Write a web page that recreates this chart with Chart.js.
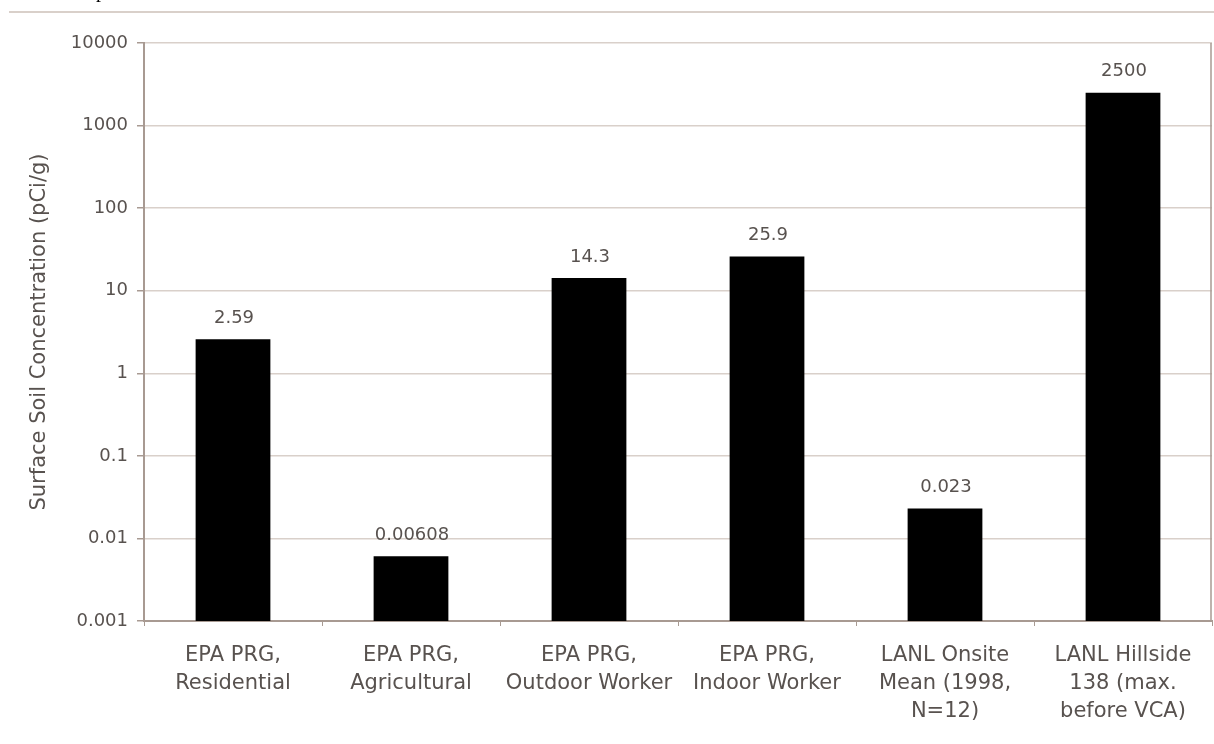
<!DOCTYPE html>
<html>
<head>
<meta charset="utf-8">
<script src="https://cdn.jsdelivr.net/npm/chart.js@4/dist/chart.umd.min.js"></script>
<style>
  html, body { margin: 0; padding: 0; background: #fff; }
  #wrap { position: relative; width: 1214px; height: 744px; overflow: hidden; }
  #frag { position: absolute; left: 96px; top: -21px; line-height: 24px; font: 20px "Liberation Serif", serif; color: #000; }
</style>
</head>
<body>
<div id="wrap">
  <div id="frag">p</div>
  <canvas id="myChart" width="1214" height="744"></canvas>
</div>
<script>
let categories = [
  ["EPA PRG,", "Residential"],
  ["EPA PRG,", "Agricultural"],
  ["EPA PRG,", "Outdoor Worker"],
  ["EPA PRG,", "Indoor Worker"],
  ["LANL Onsite", "Mean (1998,", "N=12)"],
  ["LANL Hillside", "138 (max.", "before VCA)"]
];
let values = [2.59, 0.00608, 14.3, 25.9, 0.023, 2500];
let valueLabels = ["2.59", "0.00608", "14.3", "25.9", "0.023", "2500"];
let yTicks = [0.001, 0.01, 0.1, 1, 10, 100, 1000, 10000];
let yTickLabels = ["0.001", "0.01", "0.1", "1", "10", "100", "1000", "10000"];
let yTitle = "Surface Soil Concentration (pCi/g)";

let textColor = "#58524f";
let axisColor = "#a89a92";
let gridColor = "#d9d0ca";
let font = "'DejaVu Sans', sans-serif";

let frame = {
  id: "frame",
  afterDraw(chart) {
    let ctx = chart.ctx;
    let a = chart.chartArea;
    ctx.save();
    ctx.strokeStyle = gridColor;
    ctx.lineWidth = 2;
    ctx.beginPath();
    ctx.moveTo(9, 12);
    ctx.lineTo(chart.width, 12);
    ctx.stroke();
    ctx.strokeStyle = axisColor;
    ctx.lineWidth = 1.5;
    ctx.beginPath();
    ctx.moveTo(a.right - 1, a.top);
    ctx.lineTo(a.right - 1, a.bottom);
    ctx.stroke();
    ctx.restore();
  }
};

let barLabels = {
  id: "barLabels",
  afterDatasetsDraw(chart) {
    let ctx = chart.ctx;
    ctx.save();
    ctx.font = "18px " + font;
    ctx.fillStyle = textColor;
    ctx.textAlign = "center";
    ctx.textBaseline = "middle";
    chart.getDatasetMeta(0).data.forEach((bar, i) => {
      ctx.fillText(valueLabels[i], bar.x + 1, bar.y - 21);
    });
    ctx.restore();
  }
};

new Chart(document.getElementById("myChart"), {
  type: "bar",
  data: {
    labels: categories,
    datasets: [{
      data: values,
      backgroundColor: "#000",
      borderWidth: 0,
      barPercentage: 0.42,
      categoryPercentage: 1
    }]
  },
  options: {
    responsive: false,
    animation: false,
    events: [],
    layout: { padding: { top: 43, right: 2, left: 0, bottom: 0 } },
    plugins: { legend: { display: false }, tooltip: { enabled: false } },
    scales: {
      x: {
        afterFit(scale) { scale.height = 123; },
        border: { color: axisColor, width: 2 },
        grid: { drawOnChartArea: false, tickLength: 5, color: axisColor, offset: true },
        ticks: {
          color: textColor,
          padding: 16,
          maxRotation: 0,
          autoSkip: false,
          font: { family: font, size: 21, lineHeight: 1.333 }
        }
      },
      y: {
        type: "logarithmic",
        min: 0.001,
        max: 10000,
        afterFit(scale) { scale.width = 144; },
        afterBuildTicks(scale) {
          scale.ticks = yTicks.map(v => ({ value: v }));
        },
        border: { color: axisColor, width: 2 },
        grid: { color: gridColor, lineWidth: 1.5, tickLength: 7, tickColor: axisColor },
        ticks: {
          color: textColor,
          padding: 9,
          font: { family: font, size: 18 },
          callback: (v) => yTickLabels[yTicks.indexOf(v)]
        },
        title: {
          display: true,
          text: yTitle,
          color: textColor,
          padding: { top: 27, bottom: 0 },
          font: { family: font, size: 21, lineHeight: 1.2 }
        }
      }
    }
  },
  plugins: [frame, barLabels]
});
</script>
</body>
</html>
